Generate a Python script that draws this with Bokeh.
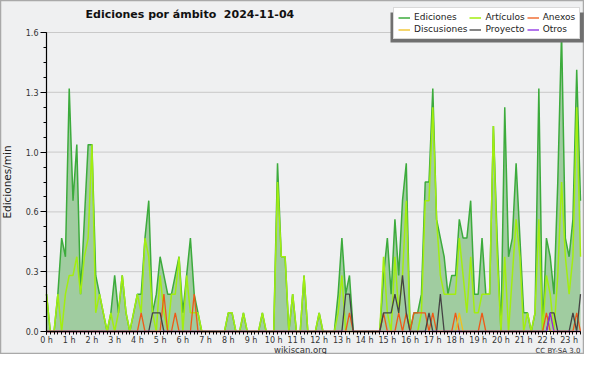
from bokeh.plotting import figure
from bokeh.models import Range1d, FixedTicker, PrintfTickFormatter, Label, Legend, LegendItem
from bokeh.embed import file_html
from bokeh.resources import INLINE

title_text = "Ediciones por ámbito\u00a0 2024-11-04"
y_label = "Ediciones/min"
footer_left = "wikiscan.org"
footer_right = "CC BY-SA 3.0"
hour_ticks = list(range(24))
y_ticks = [0.0, 0.32, 0.64, 0.96, 1.28, 1.6]
y_max = 1.6
step_minutes = 10

# one row per hour, six 10-minute values each (last hour partial)
ediciones_rows = [
    [0.2, 0.0, 0.0, 0.2, 0.5, 0.4],
    [1.3, 0.7, 1.0, 0.2, 0.6, 1.0],
    [1.0, 0.3, 0.2, 0.1, 0.0, 0.1],
    [0.3, 0.1, 0.3, 0.1, 0.0, 0.1],
    [0.2, 0.2, 0.5, 0.7, 0.1, 0.2],
    [0.4, 0.3, 0.2, 0.2, 0.3, 0.4],
    [0.1, 0.3, 0.5, 0.2, 0.1, 0.0],
    [0.0, 0.0, 0.0, 0.0, 0.0, 0.0],
    [0.1, 0.1, 0.0, 0.0, 0.1, 0.0],
    [0.0, 0.0, 0.0, 0.1, 0.0, 0.0],
    [0.0, 0.9, 0.4, 0.4, 0.0, 0.2],
    [0.0, 0.0, 0.3, 0.0, 0.0, 0.0],
    [0.1, 0.0, 0.0, 0.0, 0.0, 0.2],
    [0.5, 0.2, 0.3, 0.0, 0.0, 0.0],
    [0.0, 0.0, 0.0, 0.0, 0.0, 0.3],
    [0.5, 0.2, 0.6, 0.3, 0.7, 0.9],
    [0.0, 0.1, 0.1, 0.2, 0.8, 0.8],
    [1.3, 0.6, 0.5, 0.4, 0.2, 0.3],
    [0.3, 0.6, 0.5, 0.5, 0.7, 0.2],
    [0.2, 0.5, 0.2, 0.2, 1.1, 0.5],
    [0.0, 1.2, 0.4, 0.5, 0.9, 0.5],
    [0.1, 0.1, 0.0, 0.1, 1.3, 0.0],
    [0.5, 0.4, 0.2, 0.8, 1.6, 0.5],
    [0.4, 0.6, 1.4, 0.7],
]
articulos_rows = [
    [0.2, 0.0, 0.0, 0.2, 0.0, 0.2],
    [0.3, 0.3, 0.4, 0.2, 0.4, 0.5],
    [1.0, 0.1, 0.2, 0.1, 0.0, 0.1],
    [0.0, 0.1, 0.3, 0.1, 0.0, 0.1],
    [0.2, 0.1, 0.5, 0.4, 0.1, 0.0],
    [0.3, 0.1, 0.0, 0.2, 0.2, 0.4],
    [0.0, 0.3, 0.1, 0.1, 0.1, 0.0],
    [0.0, 0.0, 0.0, 0.0, 0.0, 0.0],
    [0.1, 0.1, 0.0, 0.0, 0.1, 0.0],
    [0.0, 0.0, 0.0, 0.1, 0.0, 0.0],
    [0.0, 0.8, 0.4, 0.4, 0.0, 0.2],
    [0.0, 0.0, 0.3, 0.0, 0.0, 0.0],
    [0.1, 0.0, 0.0, 0.0, 0.0, 0.1],
    [0.3, 0.0, 0.0, 0.0, 0.0, 0.0],
    [0.0, 0.0, 0.0, 0.0, 0.0, 0.4],
    [0.1, 0.0, 0.4, 0.1, 0.3, 0.7],
    [0.0, 0.0, 0.0, 0.1, 0.7, 0.7],
    [1.2, 0.6, 0.3, 0.2, 0.2, 0.2],
    [0.2, 0.5, 0.3, 0.1, 0.4, 0.1],
    [0.1, 0.2, 0.2, 0.2, 1.1, 0.4],
    [0.0, 0.4, 0.0, 0.3, 0.6, 0.4],
    [0.0, 0.1, 0.0, 0.1, 0.6, 0.0],
    [0.3, 0.2, 0.0, 0.3, 0.8, 0.4],
    [0.2, 0.4, 1.2, 0.4],
]
anexos_rows = [
    [0, 0, 0, 0, 0, 0], [0, 0, 0, 0, 0, 0], [0, 0, 0, 0, 0, 0], [0, 0, 0, 0, 0, 0],
    [0, 0.1, 0, 0, 0, 0], [0, 0.2, 0, 0, 0.1, 0], [0, 0, 0, 0.2, 0, 0],
    [0, 0, 0, 0, 0, 0], [0, 0, 0, 0, 0, 0], [0, 0, 0, 0, 0, 0], [0, 0, 0, 0, 0, 0],
    [0, 0, 0, 0, 0, 0], [0, 0, 0, 0, 0, 0], [0, 0, 0.1, 0, 0, 0], [0, 0, 0, 0, 0, 0.1],
    [0, 0, 0, 0.1, 0, 0.1], [0, 0.1, 0.1, 0.1, 0.1, 0], [0.1, 0, 0, 0, 0, 0],
    [0.1, 0, 0, 0, 0, 0], [0, 0.1, 0, 0, 0, 0], [0, 0, 0, 0, 0, 0], [0, 0, 0, 0, 0, 0],
    [0.1, 0, 0, 0, 0, 0], [0, 0, 0.1, 0],
]
discusiones_rows = [[0, 0, 0, 0, 0, 0]] * 18 + [
    [0, 0.1, 0, 0, 0, 0], [0, 0, 0, 0, 0, 0], [0, 0, 0, 0, 0, 0], [0, 0, 0, 0, 0, 0],
    [0, 0.1, 0, 0, 0, 0], [0, 0, 0, 0],
]
proyecto_rows = [
    [0, 0, 0, 0, 0, 0], [0, 0, 0, 0, 0, 0], [0, 0, 0, 0, 0, 0], [0, 0, 0, 0, 0, 0],
    [0, 0, 0, 0, 0.1, 0.1], [0.1, 0, 0, 0, 0, 0], [0, 0, 0, 0, 0, 0],
    [0, 0, 0, 0, 0, 0], [0, 0, 0, 0, 0, 0], [0, 0, 0, 0, 0, 0], [0, 0, 0, 0, 0, 0],
    [0, 0, 0, 0, 0, 0], [0, 0, 0, 0, 0, 0], [0, 0.2, 0.2, 0, 0, 0], [0, 0, 0, 0, 0, 0.1],
    [0.1, 0.1, 0.2, 0.1, 0.3, 0.1], [0, 0, 0, 0, 0, 0.1], [0, 0, 0.2, 0, 0, 0],
    [0, 0, 0, 0, 0, 0], [0, 0, 0, 0, 0, 0], [0, 0, 0, 0, 0, 0], [0, 0, 0, 0, 0, 0],
    [0, 0.1, 0.1, 0, 0, 0], [0, 0.1, 0, 0.2],
]
otros_rows = [[0, 0, 0, 0, 0, 0]] * 22 + [[0, 0.1, 0, 0, 0, 0], [0, 0, 0, 0]]


def flat(rows):
    return [v for r in rows for v in r]


ediciones = flat(ediciones_rows)
articulos = flat(articulos_rows)
anexos = flat(anexos_rows)
discusiones = flat(discusiones_rows)
proyecto = flat(proyecto_rows)
otros = flat(otros_rows)
n = len(ediciones)
hours = [i * step_minutes / 60 for i in range(n)]
x_end = hours[-1]

# ---- layout (pixels) ----
W, H = 584, 354
PX_LEFT, PX_RIGHT, PX_TOP, PX_BOTTOM = 46, 580, 32, 331
sx = (PX_RIGHT - PX_LEFT) / x_end
sy = (PX_BOTTOM - PX_TOP) / y_max
x_range = Range1d(-PX_LEFT / sx, x_end + (W - PX_RIGHT) / sx)
y_range = Range1d(-(H - PX_BOTTOM) / sy, y_max + PX_TOP / sy)

p = figure(width=W, height=H, title=None, x_range=x_range, y_range=y_range,
           output_backend="svg", toolbar_location=None,
           min_border=0, min_border_left=0, min_border_right=0,
           min_border_top=0, min_border_bottom=0)
BG = "#eff0f1"
p.background_fill_color = BG
p.border_fill_color = BG
p.outline_line_color = "#a9a9a9"
p.outline_line_width = 1.5
p.grid.visible = False

# horizontal grid lines at the y ticks, only over the data area
grid_y = y_ticks[1:]
p.segment(x0=[0] * len(grid_y), y0=grid_y, x1=[x_end] * len(grid_y), y1=grid_y,
          line_color="#c9c9c9", line_width=1)

y_minor = [k * 0.08 for k in range(21)]
x_minor = [k * step_minutes / 60 for k in range(n)]

p.yaxis.ticker = FixedTicker(ticks=y_ticks, minor_ticks=y_minor)
p.yaxis.formatter = PrintfTickFormatter(format="%.1f")
p.xaxis.ticker = FixedTicker(ticks=hour_ticks, minor_ticks=x_minor)
p.xaxis.formatter = PrintfTickFormatter(format="%d h")
p.xaxis.fixed_location = 0
p.yaxis.fixed_location = 0
p.xaxis.bounds = (0, x_end)
p.yaxis.bounds = (0, y_max)
for ax in (p.xaxis, p.yaxis):
    ax.axis_line_color = "black"
    ax.axis_line_width = 1.2
    ax.major_tick_line_color = "black"
    ax.minor_tick_line_color = "black"
    ax.major_tick_in = 0
    ax.minor_tick_in = 0
    ax.major_label_text_font = "DejaVu Sans"
    ax.major_label_text_font_size = "8px"
    ax.major_label_text_color = "#333333"
p.yaxis.major_tick_out = 6
p.yaxis.minor_tick_out = 3
p.yaxis.major_label_standoff = 2
p.yaxis.axis_label = y_label
p.yaxis.axis_label_text_font = "DejaVu Sans"
p.yaxis.axis_label_text_font_size = "10.5px"
p.yaxis.axis_label_text_font_style = "normal"
p.yaxis.axis_label_text_color = "#222222"
p.yaxis.axis_label_standoff = 10
p.xaxis.major_tick_out = 3
p.xaxis.minor_tick_out = 3
p.xaxis.major_label_standoff = 1

p.varea(x=hours, y1=[0] * n, y2=ediciones, fill_color="#a0cca0", fill_alpha=1.0)
r_e = p.line(hours, ediciones, line_color="#3cab3c", line_width=1.5)
r_a = p.line(hours, articulos, line_color="#a2ee10", line_width=1.5)
r_x = p.line(hours, anexos, line_color="#ee5a18", line_width=1.3)
r_d = p.line(hours, discusiones, line_color="#f0c020", line_width=1.3)
r_p = p.line(hours, proyecto, line_color="#444444", line_width=1.3)
r_o = p.line(hours, otros, line_color="#8a2be2", line_width=1.3)

# legend shadow (a padded empty label used as a box)
shadow = Label(x=390, y=H - 42, x_units="screen", y_units="screen", text=" ",
               text_font_size="1px", background_fill_color="#707070",
               padding=dict(left=0, right=193, top=29, bottom=0))
p.add_layout(shadow)

legend = Legend(items=[
    LegendItem(label="Ediciones", renderers=[r_e]),
    LegendItem(label="Artículos", renderers=[r_a]),
    LegendItem(label="Anexos", renderers=[r_x]),
    LegendItem(label="Discusiones", renderers=[r_d]),
    LegendItem(label="Proyecto", renderers=[r_p]),
    LegendItem(label="Otros", renderers=[r_o]),
], location=(393, H - 39), orientation="horizontal", ncols=3)
legend.label_text_font = "DejaVu Sans"
legend.label_text_font_size = "9px"
legend.label_text_color = "#222222"
legend.glyph_width = 12
legend.glyph_height = 9
legend.label_height = 9
legend.label_standoff = 4
legend.spacing = 2
legend.padding = 4
legend.margin = 0
legend.border_line_color = "#b4b4b4"
legend.background_fill_color = "white"
legend.background_fill_alpha = 1.0
p.add_layout(legend)

p.add_layout(Label(x=85, y=H - 14, x_units="screen", y_units="screen", text=title_text,
                   text_font="DejaVu Sans", text_font_size="11px", text_font_style="bold",
                   text_color="#111111", text_baseline="middle", text_align="left"))
p.add_layout(Label(x=300, y=H - 349.5, x_units="screen", y_units="screen", text=footer_left,
                   text_font="DejaVu Sans", text_font_size="8.5px", text_color="#333333",
                   text_baseline="middle", text_align="center"))
p.add_layout(Label(x=PX_RIGHT, y=H - 350, x_units="screen", y_units="screen", text=footer_right,
                   text_font="DejaVu Sans", text_font_size="7px", text_color="#333333",
                   text_baseline="middle", text_align="right"))

open("out.html", "w").write(file_html(p, INLINE))
